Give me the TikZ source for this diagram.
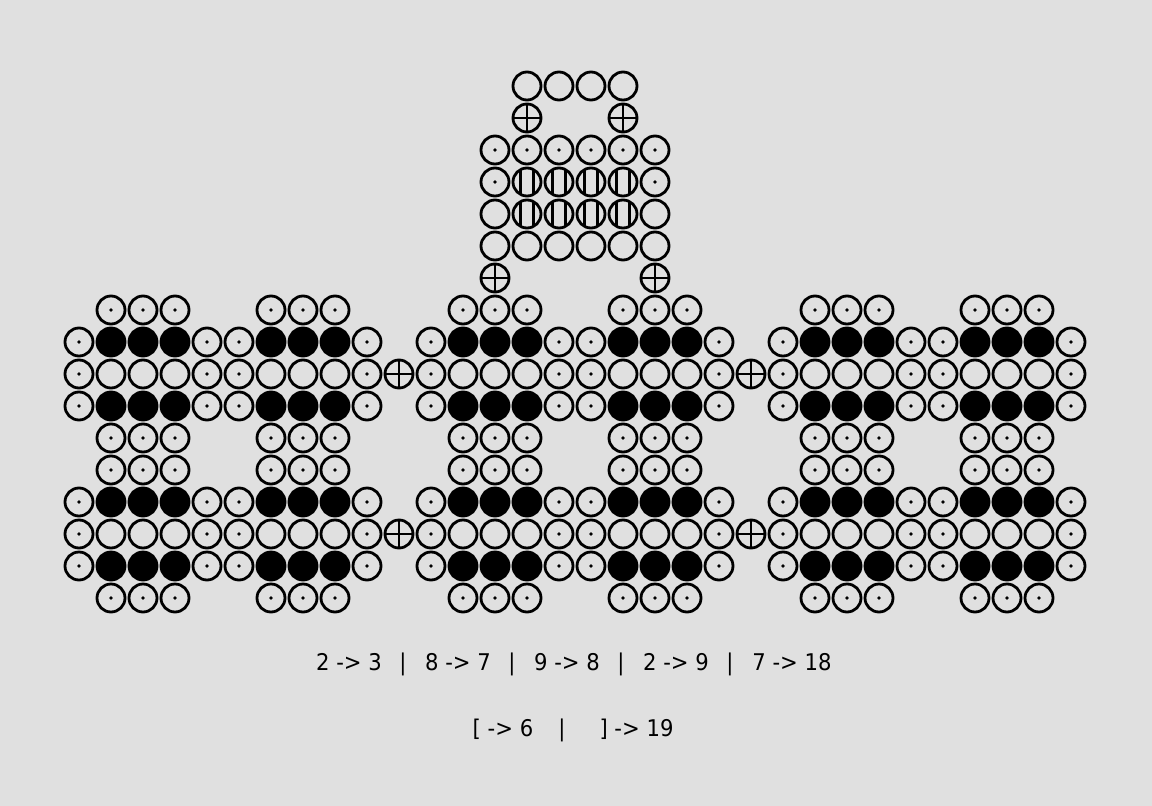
\documentclass[tikz,border=0pt]{standalone}
\usepackage{fontspec}
\setmainfont{DejaVu Sans}[FakeStretch=0.92]
\definecolor{bgc}{RGB}{224,224,224}
\tikzset{
  ring/.style={line width=2.8pt, draw=black},
  txt/.style={inner sep=0pt, anchor=base, font=\fontsize{23}{28}\selectfont},
  pics/emptyc/.style={code={\draw[ring] (0,0) circle[radius=14pt];}},
  pics/dotc/.style={code={\draw[ring] (0,0) circle[radius=14pt]; \fill (0,0) circle[radius=1.8pt];}},
  pics/filledc/.style={code={\filldraw[ring, fill=black] (0,0) circle[radius=14pt];}},
  pics/plusc/.style={code={\draw[ring] (0,0) circle[radius=14pt];
      \draw[ring] (-14pt,0) -- (14pt,0); \draw[ring] (0,-14pt) -- (0,14pt);}},
  pics/vlinec/.style={code={\draw[ring] (0,0) circle[radius=14pt];
      \draw[ring] (-6.5pt,-12.4pt) -- (-6.5pt,12.4pt); \draw[ring] (6.5pt,-12.4pt) -- (6.5pt,12.4pt);}},
}
\newcommand{\cellpic}[3]{\pic at ({79+32*(#1)},{86+32*(#2)}) {#3};}
\begin{document}
\begin{tikzpicture}[x=1pt,y=-1pt]
\fill[bgc] (0,0) rectangle (1152,806);
\useasboundingbox (0,0) rectangle (1152,806);
% six blocks
\foreach \b in {0,5,11,16,22,27}{
  \foreach \r in {7,11,12,16}{\foreach \k in {1,2,3}{\cellpic{\b+\k}{\r}{dotc}}}
  \foreach \r in {8,10,13,15}{
    \foreach \k in {1,2,3}{\cellpic{\b+\k}{\r}{filledc}}
    \foreach \k in {0,4}{\cellpic{\b+\k}{\r}{dotc}}}
  \foreach \r in {9,14}{
    \foreach \k in {1,2,3}{\cellpic{\b+\k}{\r}{emptyc}}
    \foreach \k in {0,4}{\cellpic{\b+\k}{\r}{dotc}}}
}
% plus circles
\foreach \c/\r in {10/9,10/14,21/9,21/14,13/6,18/6,14/1,17/1}{\cellpic{\c}{\r}{plusc}}
% top structure
\foreach \c in {14,...,17}{\cellpic{\c}{0}{emptyc}}
\foreach \c in {13,...,18}{\cellpic{\c}{2}{dotc}}
\cellpic{13}{3}{dotc}
\cellpic{18}{3}{dotc}
\cellpic{13}{4}{emptyc}
\cellpic{18}{4}{emptyc}
\foreach \c in {14,...,17}{\cellpic{\c}{3}{vlinec}\cellpic{\c}{4}{vlinec}}
\foreach \c in {13,...,18}{\cellpic{\c}{5}{emptyc}}
% text line 1
\node[txt] (a1) at (349,670) {2 -> 3};
\node[txt] (p1) at (403,670) {|};
\node[txt] (a2) at (458,670) {8 -> 7};
\node[txt] (p2) at (512,670) {|};
\node[txt] (a3) at (567,670) {9 -> 8};
\node[txt] (p3) at (621,670) {|};
\node[txt] (a4) at (676,670) {2 -> 9};
\node[txt] (p4) at (730,670) {|};
\node[txt] (a5) at (792,670) {7 -> 18};
% text line 2
\node[txt] (b1) at (503,736) {[ -> 6};
\node[txt] (q1) at (562,736) {|};
\node[txt] (b2) at (636.5,736) {] -> 19};
\end{tikzpicture}
\end{document}
